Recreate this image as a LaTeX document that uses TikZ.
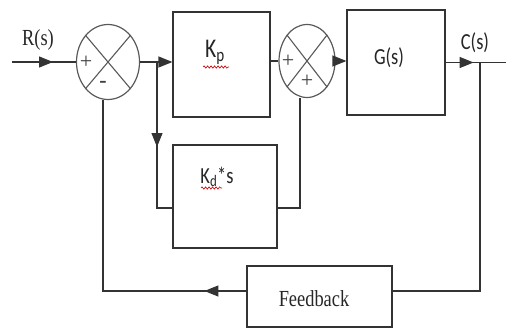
\documentclass[tikz,border=0pt]{standalone}
\usepackage{fontspec}
\usepackage{graphicx}
\setmainfont{Liberation Serif}
\newfontfamily\calfont{Carlito}
\newcommand{\hsq}[1]{\scalebox{0.8}[1]{#1}}
\usetikzlibrary{shapes.geometric,arrows.meta,decorations.markings,decorations.pathmorphing,calc}
\begin{document}
\begin{tikzpicture}[x=1pt,y=-1pt,
  line/.style={draw=black!80, line width=1.2pt},
  tip/.style={-{Triangle[length=14pt,width=11pt]}},
  midtip/.style={postaction=decorate, decoration={markings, mark=at position #1 with {\arrow{Triangle[length=14pt,width=11pt]}}}},
  sumj/.style={ellipse, draw=black!65, line width=1.2pt, inner sep=0pt},
  blk/.style={rectangle, draw=black!80, line width=1.2pt, inner sep=0pt},
  serif/.style={font=\fontsize{23}{24}\selectfont, text=black!85, inner sep=0pt},
  sans/.style={font=\calfont\fontsize{23}{24}\selectfont, text=black!85, inner sep=0pt},
  bigsans/.style={font=\calfont\fontsize{27}{28}\selectfont, text=black!85, inner sep=0pt},
  sgn/.style={font=\fontsize{22}{22}\selectfont, text=black!75, inner sep=0pt},
  squig/.style={draw=red!80!black, line width=0.6pt, decorate, decoration={snake, amplitude=1.2pt, segment length=3.5pt}}
]
\useasboundingbox (0,0) rectangle (506,329);
% blocks
\node[sumj, minimum width=63pt, minimum height=75pt] (sum1) at (108,62) {};
\node[blk, minimum width=97pt, minimum height=105pt] (kp) at (221.5,64.5) {};
\node[sumj, minimum width=56pt, minimum height=73pt] (sum2) at (307,61) {};
\node[blk, minimum width=98pt, minimum height=105pt] (g) at (396,62.5) {};
\node[blk, minimum width=104pt, minimum height=103pt] (kd) at (225,196.5) {};
\node[blk, minimum width=145pt, minimum height=61pt] (fb) at (319.5,296.5) {};
% crosses
\draw[draw=black!65, line width=1.1pt] (sum1.north west) -- (sum1.south east) (sum1.north east) -- (sum1.south west);
\draw[draw=black!65, line width=1.1pt] (sum2.north west) -- (sum2.south east) (sum2.north east) -- (sum2.south west);
% coordinates
\coordinate (in) at (12,62);
\coordinate (b1) at (157,62);
\coordinate (out) at (506,62.5);
\coordinate (b2) at (480,62.5);
% connectors
\draw[line, midtip=41pt] (in) -- (sum1.west);
\draw[line, tip] (sum1.east) -- (kp.west |- sum1.east);
\draw[line, midtip=85pt] (b1) |- ([yshift=-11.5pt]kd.west);
\draw[line] (kp.east |- sum2.west) -- (sum2.west);
\draw[line] ([xshift=-7pt]sum2.south) |- ([yshift=-11.5pt]kd.east);
\draw[line, tip] (sum2.east) -- (g.west |- sum2.east);
\draw[line, midtip=28pt] (g.east) -- (out);
\draw[line] (b2) |- ([yshift=5.5pt]fb.east);
\draw[line, midtip=42pt] ([yshift=5.5pt]fb.west) -| ([xshift=-5pt]sum1.south);
% labels
\node[serif] (rl) at (38,40) {\hsq{R(s)}};
\node[sans] (cl) at (475,43) {\hsq{C(s)}};
\node[sans] (gl) at (389,58) {\hsq{G(s)}};
\node[bigsans] (kpl) at (215,52) {\hsq{K\textsubscript{p}}};
\node[sans] (kdl) at (217,177) {\hsq{K\textsubscript{d}*s}};
\node[serif] (fbl) at (314,299) {\hsq{Feedback}};
\draw[squig] (203,67) -- (229,67);
\draw[squig] (201,188) -- (222,188);
% signs
\node[sgn] (p1) at (86,62) {+};
\node[sgn] (m1) at (103,84) {\textbf{-}};
\node[sgn] (p2) at (288,61) {+};
\node[sgn] (p3) at (307,81) {+};
\end{tikzpicture}
\end{document}
